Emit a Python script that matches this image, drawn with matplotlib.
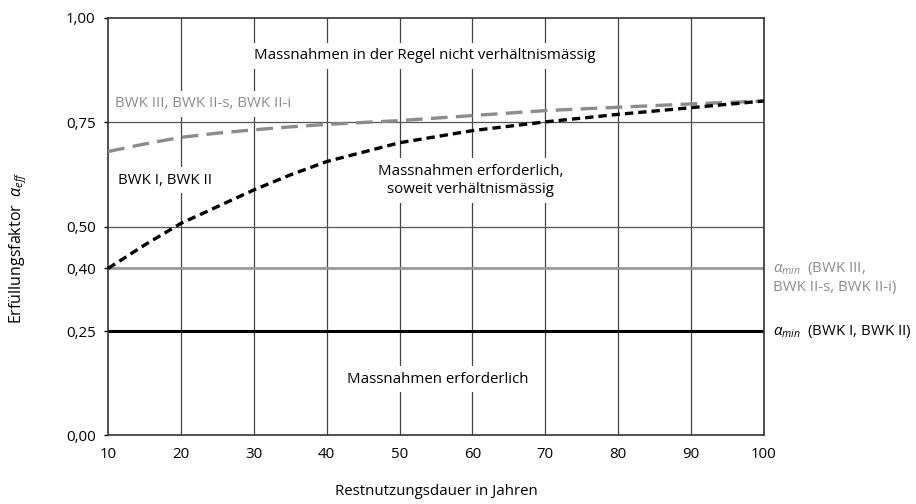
import matplotlib.pyplot as plt
from matplotlib.ticker import FixedLocator

plt.rcParams['font.family'] = ['Open Sans', 'DejaVu Sans']
plt.rcParams['mathtext.fontset'] = 'custom'
plt.rcParams['mathtext.it'] = 'Open Sans:italic'
plt.rcParams['mathtext.rm'] = 'Open Sans'

# Restnutzungsdauer (Jahre)
years = [10, 15, 20, 25, 30, 35, 40, 50, 60, 70, 80, 90, 100]
# BWK I, BWK II
alpha_bwk12 = [0.40, 0.456, 0.508, 0.548, 0.588, 0.624, 0.656, 0.701, 0.730, 0.751, 0.769, 0.785, 0.801]
# BWK III, BWK II-s, BWK II-i
alpha_bwk3 = [0.680, 0.698, 0.714, 0.724, 0.732, 0.739, 0.745, 0.754, 0.766, 0.778, 0.786, 0.794, 0.801]

alpha_min_bwk3 = 0.40
alpha_min_bwk12 = 0.25

x_ticks = [10, 20, 30, 40, 50, 60, 70, 80, 90, 100]
y_ticks = [0.0, 0.25, 0.40, 0.50, 0.75, 1.00]
y_labels = ['0,00', '0,25', '0,40', '0,50', '0,75', '1,00']

fs = 10.8

fig = plt.figure(figsize=(9.16, 5.04), dpi=100)
ax = fig.add_axes([0.118, 0.136, 0.716, 0.8285])

ax.set_xlim(10, 100)
ax.set_ylim(0, 1)

# grid
for xv in x_ticks[1:]:
    ax.axvline(xv, color='#444444', lw=0.9, zorder=1)
for yv in [0.50, 0.75]:
    ax.axhline(yv, color='#555555', lw=0.9, zorder=1)
ax.axhline(alpha_min_bwk3, color='#999999', lw=2.0, zorder=2)
ax.axhline(alpha_min_bwk12, color='black', lw=2.2, zorder=2)

ax.plot(years, alpha_bwk3, color='#8c8c8c', lw=2.4, dashes=(5, 2.5), zorder=4, clip_on=False)
ax.plot(years, alpha_bwk12, color='black', lw=2.4, dashes=(2.5, 1.5), zorder=5, clip_on=False)

box = dict(facecolor='white', edgecolor='none', pad=4)
ax.text(53.4, 0.909, 'Massnahmen in der Regel nicht verhältnismässig', ha='center', va='center',
        fontsize=fs, bbox=box, zorder=3)
ax.text(11.0, 0.794, 'BWK III, BWK II-s, BWK II-i', ha='left', va='center', color='#8c8c8c',
        fontsize=fs, bbox=box, zorder=3)
ax.text(11.4, 0.611, 'BWK I, BWK II', ha='left', va='center', fontsize=fs, bbox=box, zorder=3)
ax.text(59.7, 0.611, 'Massnahmen erforderlich,\nsoweit verhältnismässig', ha='center', va='center',
        fontsize=fs, linespacing=1.3, bbox=box, zorder=3)
ax.text(55.3, 0.135, 'Massnahmen erforderlich', ha='center', va='center', fontsize=fs, bbox=box, zorder=3)

# right-hand labels
ax.text(101.3, 0.40, r'$\alpha_{min}$  (BWK III,', ha='left', va='center', color='#8c8c8c',
        fontsize=fs, clip_on=False)
ax.text(101.3, 0.355, 'BWK II-s, BWK II-i)', ha='left', va='center', color='#8c8c8c',
        fontsize=fs, clip_on=False)
ax.text(101.3, 0.25, r'$\alpha_{min}$  (BWK I, BWK II)', ha='left', va='center', color='black',
        fontsize=fs, clip_on=False)

ax.xaxis.set_major_locator(FixedLocator(x_ticks))
ax.set_xticklabels([str(v) for v in x_ticks])
ax.yaxis.set_major_locator(FixedLocator(y_ticks))
ax.set_yticklabels(y_labels)
ax.tick_params(axis='x', length=0, pad=8, labelsize=fs)
ax.tick_params(axis='y', length=3, width=1, pad=6, labelsize=fs, direction='out')

for sp in ax.spines.values():
    sp.set_color('#333333')
    sp.set_linewidth(1.2)

ax.set_xlabel('Restnutzungsdauer in Jahren', fontsize=fs)
ax.xaxis.set_label_coords(0.5, -0.117)
ax.set_ylabel(r'Erfüllungsfaktor  $\alpha_{eff}$', fontsize=11.5)
ax.yaxis.set_label_coords(-0.12, 0.45)

fig.savefig('out.png', dpi=100)
